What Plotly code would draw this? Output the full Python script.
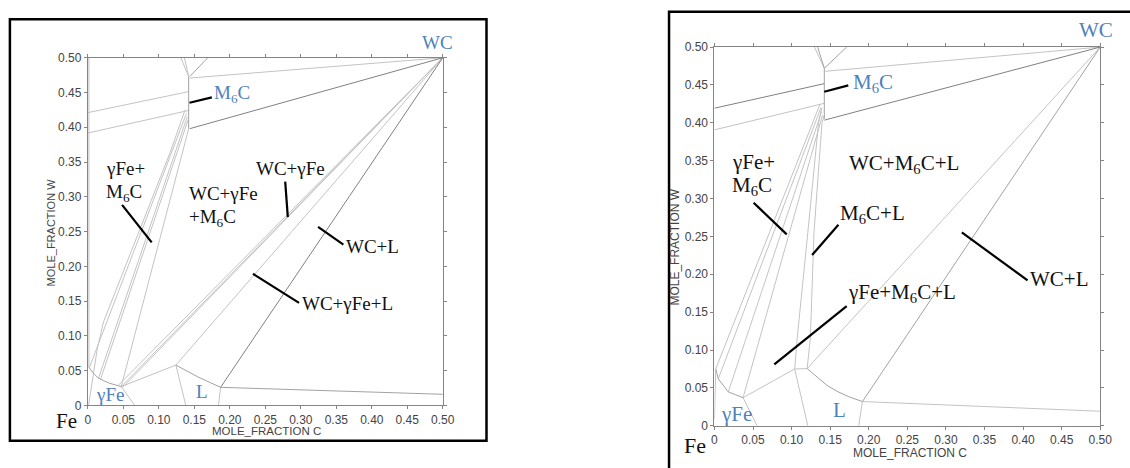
import plotly.graph_objects as go

W, H = 1130, 468

# ---------------- axis ticks ----------------
tick_vals = [0, 0.05, 0.10, 0.15, 0.20, 0.25, 0.30, 0.35, 0.40, 0.45, 0.50]
tick_text = ["0", "0.05", "0.10", "0.15", "0.20", "0.25", "0.30", "0.35", "0.40", "0.45", "0.50"]

# ---------------- LEFT panel phase boundaries (mole fraction C, mole fraction W) ----------------
left_light = [
    ([0.131, 0.142], [0.500, 0.473]),
    ([0.136, 0.142], [0.500, 0.473]),
    ([0.1436, 0.500], [0.4708, 0.500]),
    ([0.000, 0.142], [0.421, 0.4513]),
    ([0.000, 0.142], [0.3917, 0.4242]),
    ([0.0015, 0.0015], [0.054, 0.500]),
    ([0.047, 0.066], [0.027, 0.000]),
    ([0.001, 0.007, 0.013, 0.022, 0.116, 0.137], [0.000, 0.040, 0.080, 0.120, 0.364, 0.425]),
    ([0.002, 0.139], [0.054, 0.420]),
    ([0.015, 0.140], [0.039, 0.415]),
    ([0.018, 0.141], [0.038, 0.410]),
    ([0.047, 0.142], [0.027, 0.398]),
    ([0.043, 0.500], [0.029, 0.500]),
    ([0.047, 0.500], [0.027, 0.500]),
    ([0.049, 0.500], [0.026, 0.500]),
    ([0.047, 0.124], [0.027, 0.058]),
    ([0.124, 0.138], [0.058, 0.000]),
    ([0.124, 0.500], [0.058, 0.500]),
    ([0.187, 0.184], [0.026, 0.000]),
]
left_mid = [
    ([0.002, 0.008, 0.015, 0.030, 0.047], [0.054, 0.046, 0.039, 0.032, 0.027]),
    ([0.142, 0.142], [0.473, 0.398]),
    ([0.124, 0.140, 0.155, 0.172, 0.187], [0.058, 0.049, 0.041, 0.033, 0.026]),
    ([0.187, 0.500], [0.026, 0.016]),
    ([0.1436, 0.169], [0.473, 0.500]),
]
left_dark = [
    ([0.1436, 0.500], [0.398, 0.500]),
    ([0.187, 0.500], [0.026, 0.500]),
]

# ---------------- RIGHT panel phase boundaries ----------------
right_light = [
    ([0.1296, 0.1424], [0.500, 0.472]),
    ([0.1435, 0.500], [0.468, 0.500]),
    ([0.000, 0.1424], [0.3907, 0.4257]),
    ([0.000, 0.0017], [0.009, 0.075]),
    ([0.0371, 0.0554], [0.0371, 0.000]),
    ([0.0017, 0.137], [0.075, 0.425]),
    ([0.005, 0.138], [0.062, 0.420]),
    ([0.018, 0.139], [0.045, 0.415]),
    ([0.0371, 0.140], [0.0371, 0.410]),
    ([0.0371, 0.104], [0.0371, 0.075]),
    ([0.104, 0.1202], [0.075, 0.0755]),
    ([0.104, 0.121], [0.075, 0.000]),
    ([0.104, 0.1074, 0.121, 0.135, 0.139], [0.075, 0.117, 0.255, 0.400, 0.420]),
    ([0.1202, 0.1244, 0.129, 0.1394, 0.1424], [0.0755, 0.117, 0.255, 0.400, 0.410]),
    ([0.1202, 0.500], [0.0755, 0.500]),
    ([0.1918, 0.187], [0.032, 0.000]),
    ([0.1918, 0.500], [0.032, 0.0192]),
]
right_mid = [
    ([0.1338, 0.1424], [0.500, 0.472]),
    ([0.1424, 0.1714], [0.472, 0.500]),
    ([0.1424, 0.1424], [0.472, 0.405]),
    ([0.0017, 0.005, 0.0179, 0.0371], [0.075, 0.062, 0.0448, 0.0371]),
    ([0.1202, 0.135, 0.1458, 0.160, 0.175, 0.1918], [0.0755, 0.062, 0.0534, 0.045, 0.038, 0.032]),
    ([0.1918, 0.500], [0.032, 0.500]),
]
right_dark = [
    ([0.1424, 0.500], [0.4035, 0.500]),
    ([0.000, 0.1424], [0.4193, 0.4517]),
]

# ---------------- label pointer lines ----------------
left_pointers = [
    ([0.1432, 0.1747], [0.4353, 0.4429]),
    ([0.0482, 0.0899], [0.2884, 0.2344]),
    ([0.2780, 0.2817], [0.3219, 0.2707]),
    ([0.3243, 0.3600], [0.2567, 0.2312]),
    ([0.2326, 0.2975], [0.1893, 0.1475]),
]
right_pointers = [
    ([0.1423, 0.1735], [0.4410, 0.4494]),
    ([0.0508, 0.0937], [0.2945, 0.2527]),
    ([0.1607, 0.1266], [0.2655, 0.2254]),
    ([0.1714, 0.0776], [0.1580, 0.0812]),
    ([0.4058, 0.3206], [0.1920, 0.2553]),
]

LIGHT = "#c3c3c3"
MID = "#a2a2a2"
DARK = "#808080"
AXIS = "#858585"
BLUE = "#4f81bd"
SERIF = "Liberation Serif, Times New Roman, serif"
SANS = "Liberation Sans, Arial, sans-serif"

fig = go.Figure()


def add_lines(groups, color, width, xa, ya):
    for xs, ys in groups:
        fig.add_trace(go.Scatter(x=xs, y=ys, mode="lines", xaxis=xa, yaxis=ya,
                                 line=dict(color=color, width=width),
                                 showlegend=False, hoverinfo="skip"))


add_lines(left_light, LIGHT, 1, "x", "y")
add_lines(left_mid, MID, 1, "x", "y")
add_lines(left_dark, DARK, 1, "x", "y")
add_lines(left_pointers, "#000000", 2.2, "x", "y")
add_lines(right_light, LIGHT, 1, "x2", "y2")
add_lines(right_mid, MID, 1, "x2", "y2")
add_lines(right_dark, DARK, 1, "x2", "y2")
add_lines(right_pointers, "#000000", 2.2, "x2", "y2")


def px_x(p):
    return p / W


def px_y(p):
    return 1 - p / H


axis_common = dict(range=[0, 0.5], tickvals=tick_vals, ticktext=tick_text,
                   ticks="outside", ticklen=3, tickcolor=AXIS, tickwidth=1,
                   showline=True, linecolor=AXIS, linewidth=1, mirror="ticks",
                   showgrid=False, zeroline=False, fixedrange=True,
                   tickfont=dict(family=SANS, size=12, color="#444444"))

fig.update_layout(
    width=W, height=H, margin=dict(l=0, r=0, t=0, b=0),
    paper_bgcolor="white", plot_bgcolor="white", showlegend=False,
    xaxis=dict(domain=[px_x(86), px_x(445.7)], anchor="y", **axis_common),
    yaxis=dict(domain=[px_y(410.7), px_y(52.3)], anchor="x", **axis_common),
    xaxis2=dict(domain=[px_x(721), px_x(1112)], anchor="y2", **axis_common),
    yaxis2=dict(domain=[px_y(431.7), px_y(41.3)], anchor="x2", **axis_common),
)

# frames
fig.add_shape(type="rect", xref="paper", yref="paper",
              x0=px_x(7), x1=px_x(490), y0=px_y(447), y1=px_y(12.7),
              line=dict(color="black", width=2.5), fillcolor="rgba(0,0,0,0)")
fig.add_shape(type="rect", xref="paper", yref="paper",
              x0=px_x(675), x1=px_x(1150), y0=px_y(490), y1=px_y(5),
              line=dict(color="black", width=2.5), fillcolor="rgba(0,0,0,0)")

ann = []


def label(text, x, y, xr, yr, size, color="#111111", xanchor="left"):
    ann.append(dict(text=text, x=x, y=y, xref=xr, yref=yr, showarrow=False,
                    xanchor=xanchor, yanchor="middle", borderpad=0,
                    font=dict(family=SERIF, size=size, color=color)))


# left panel labels
label("WC", px_x(440), px_y(36.5), "paper", "paper", 19, BLUE, "center")
label("M<sub>6</sub>C", 0.1765, 0.4475, "x", "y", 19, BLUE)
label("γFe+", 0.0236, 0.340, "x", "y", 19)
label("M<sub>6</sub>C", 0.0236, 0.306, "x", "y", 19)
label("WC+γFe", 0.1404, 0.305, "x", "y", 19)
label("+M<sub>6</sub>C", 0.1404, 0.270, "x", "y", 19)
label("WC+γFe", 0.235, 0.340, "x", "y", 19)
label("WC+L", 0.3628, 0.228, "x", "y", 19)
label("WC+γFe+L", 0.3003, 0.146, "x", "y", 19)
label("γFe", 0.0097, 0.015, "x", "y", 19, BLUE)
label("L", 0.1515, 0.0205, "x", "y", 19, BLUE)

# right panel labels
label("WC", px_x(1108), px_y(23.5), "paper", "paper", 21, BLUE, "center")
label("M<sub>6</sub>C", 0.1777, 0.452, "x2", "y2", 21, BLUE)
label("γFe+", 0.0217, 0.3476, "x2", "y2", 21)
label("M<sub>6</sub>C", 0.0217, 0.316, "x2", "y2", 21)
label("WC+M<sub>6</sub>C+L", 0.2455, 0.345, "x2", "y2", 21, xanchor="center")
label("M<sub>6</sub>C+L", 0.161, 0.280, "x2", "y2", 21)
label("γFe+M<sub>6</sub>C+L", 0.1714, 0.175, "x2", "y2", 21)
label("WC+L", 0.4079, 0.1942, "x2", "y2", 21)
label("γFe", 0.0077, 0.015, "x2", "y2", 21, BLUE)
label("L", 0.152, 0.0214, "x2", "y2", 21, BLUE)

# corner "Fe" labels
label("Fe", px_x(53), px_y(427), "paper", "paper", 21)
label("Fe", px_x(689), px_y(452), "paper", "paper", 22)

# axis titles
for text, x, y, ang, sz in [
    ("MOLE_FRACTION C", 267, 437.5, 0, 11.5),
    ("MOLE_FRACTION W", 49, 232, -90, 11),
    ("MOLE_FRACTION C", 919, 460, 0, 12),
    ("MOLE_FRACTION W", 681, 247, -90, 12),
]:
    ann.append(dict(text=text, x=px_x(x), y=px_y(y), xref="paper", yref="paper",
                    showarrow=False, xanchor="center", yanchor="middle", textangle=ang,
                    borderpad=0, font=dict(family=SANS, size=sz, color="#444444")))

fig.update_layout(annotations=ann)

fig.write_html("out.html",
               config={"displayModeBar": False, "staticPlot": True},
               post_script="document.body.style.margin='0';document.body.style.padding='0';"
                           "document.body.style.overflow='hidden';")
